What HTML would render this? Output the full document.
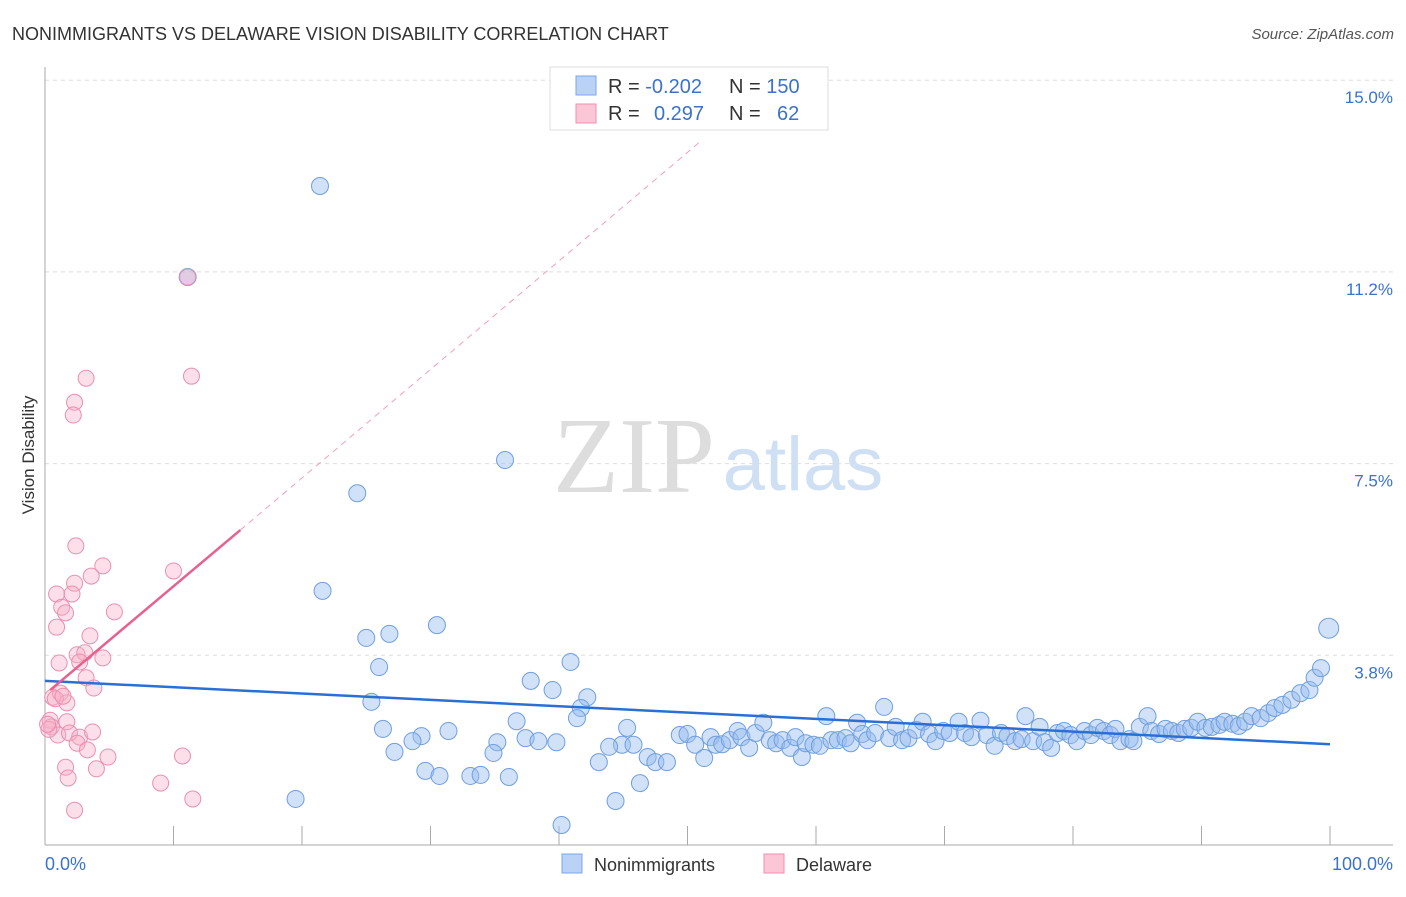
<!DOCTYPE html>
<html><head><meta charset="utf-8"><style>
body{margin:0;background:#fff;font-family:"Liberation Sans",sans-serif}
</style></head><body>
<svg id="c" width="1406" height="892" xmlns="http://www.w3.org/2000/svg">
<text x="12" y="40" font-size="18" fill="#333">NONIMMIGRANTS VS DELAWARE VISION DISABILITY CORRELATION CHART</text>
<text x="1394" y="39" font-size="15" fill="#555" font-style="italic" text-anchor="end">Source: ZipAtlas.com</text>
<g>
<text x="634" y="492" font-size="108" fill="#ddd" font-family="Liberation Serif" text-anchor="middle">ZIP</text>
<text x="803" y="490" font-size="76" fill="#cfe0f5" text-anchor="middle">atlas</text>
</g>
<g id="grid"></g>
<g id="axes"></g>
<g id="marks"></g>
<text transform="translate(34,455) rotate(-90)" font-size="17" fill="#333" text-anchor="middle">Vision Disability</text>
<g>
<rect x="550" y="67" width="278" height="63" fill="#fff" stroke="#ddd"/>
<rect x="576" y="76" width="20" height="19" fill="#b9d2f5" stroke="#7aa7e6"/>
<rect x="576" y="104" width="20" height="19" fill="#fbc7d6" stroke="#ee8fb0"/>
<text x="608" y="93" font-size="20" fill="#333">R = <tspan fill="#3a72cc">-0.202</tspan></text>
<text x="729" y="93" font-size="20" fill="#333">N = <tspan fill="#3a72cc">150</tspan></text>
<text x="608" y="120" font-size="20" fill="#333">R = <tspan fill="#3a72cc" x="654">0.297</tspan></text>
<text x="729" y="120" font-size="20" fill="#333">N = <tspan fill="#3a72cc" x="777">62</tspan></text>
</g>
<g>
<rect x="562" y="854" width="20" height="19" fill="#b9d2f5" stroke="#7aa7e6"/>
<text x="594" y="871" font-size="18" fill="#333">Nonimmigrants</text>
<rect x="764" y="854" width="20" height="19" fill="#fbc7d6" stroke="#ee8fb0"/>
<text x="796" y="871" font-size="18" fill="#333">Delaware</text>
</g>
</svg>
<script>
const blueX=[21.4,11.1,35.8,24.3,21.6,30.5,26.8,25.0,40.9,26.0,37.8,39.5,42.2,25.4,41.7,41.4,36.7,45.3,26.3,31.4,29.3,28.6,37.4,35.2,38.4,39.8,27.2,34.9,44.9,45.8,43.9,43.1,46.9,47.5,48.4,29.6,30.7,33.1,33.9,36.1,46.3,19.5,44.4,40.2,
49.4,50.0,50.6,51.3,51.8,52.2,52.7,53.3,53.9,54.2,54.8,55.3,55.9,56.4,56.9,57.4,58.0,58.4,58.9,59.2,59.8,60.3,60.8,61.2,61.7,62.3,62.7,63.2,63.6,64.0,64.6,65.3,65.7,66.2,66.7,67.2,67.8,68.3,68.8,69.3,69.9,70.4,71.1,71.6,72.1,72.8,73.3,73.9,74.4,74.9,75.5,76.0,76.3,76.9,77.4,77.8,78.3,78.8,79.3,79.8,80.3,80.9,81.4,81.9,82.4,82.9,83.3,83.7,84.4,84.7,85.2,85.8,86.1,86.7,87.2,87.7,88.2,88.7,89.2,89.7,90.3,90.8,91.4,91.8,92.4,92.9,93.4,93.9,94.6,95.2,95.7,96.3,97.0,97.7,98.4,98.8,99.3,99.9];
const blueY=[12.93,11.15,7.57,6.92,5.01,4.34,4.17,4.09,3.62,3.52,3.25,3.07,2.93,2.84,2.72,2.52,2.46,2.33,2.31,2.27,2.17,2.07,2.13,2.05,2.07,2.05,1.86,1.84,2.00,2.00,1.96,1.66,1.76,1.66,1.66,1.49,1.39,1.39,1.41,1.37,1.25,0.94,0.90,0.43,
2.19,2.21,2.00,1.74,2.15,2.00,2.01,2.09,2.27,2.15,1.94,2.23,2.43,2.09,2.03,2.09,1.94,2.15,1.76,2.03,2.00,1.98,2.56,2.09,2.09,2.13,2.03,2.43,2.21,2.09,2.23,2.74,2.13,2.35,2.09,2.13,2.29,2.45,2.21,2.07,2.27,2.23,2.45,2.23,2.15,2.47,2.19,1.98,2.23,2.17,2.07,2.11,2.56,2.07,2.35,2.05,1.94,2.23,2.27,2.19,2.07,2.27,2.19,2.33,2.27,2.19,2.31,2.07,2.11,2.07,2.35,2.56,2.27,2.21,2.31,2.27,2.23,2.31,2.33,2.45,2.33,2.35,2.39,2.45,2.41,2.37,2.45,2.56,2.52,2.62,2.72,2.78,2.88,3.01,3.07,3.31,3.50,4.28];
const pinkX=[3.2,11.4,2.3,2.2,2.4,4.5,3.6,10.0,2.3,0.9,2.1,1.3,1.6,5.4,0.9,3.5,2.5,3.1,1.1,2.7,4.5,3.2,3.8,0.6,1.2,1.7,0.4,0.5,1.0,1.7,1.9,2.7,2.5,3.3,3.7,4.9,1.6,1.8,4.0,2.3,9.0,10.7,11.5,11.1,0.3,0.8,1.4,0.2];
const pinkY=[9.17,9.21,8.70,8.45,5.89,5.50,5.30,5.40,5.16,4.95,4.95,4.69,4.58,4.60,4.30,4.13,3.76,3.80,3.60,3.62,3.70,3.31,3.11,2.93,3.01,2.82,2.48,2.35,2.19,2.45,2.23,2.15,2.03,1.90,2.25,1.76,1.56,1.35,1.53,0.72,1.25,1.78,0.94,11.15,2.30,2.90,2.95,2.40];
const yTicks=[3.75,7.5,11.25,15];
const yTickLabels=["3.8%","7.5%","11.2%","15.0%"];
const xTicks=[0,10,20,30,40,50,60,70,80,90,100];
const blueTrend=[3.25,2.01];
const pinkTrend=[0.4,3.07,15.2,6.20,51,13.8];

const NS="http://www.w3.org/2000/svg";
const sx=v=>45+v*12.85, sy=v=>847-v*51.12;
function mk(p,t,a){const e=document.createElementNS(NS,t);for(const k in a)e.setAttribute(k,a[k]);p.appendChild(e);return e;}
const grid=document.getElementById('grid'),axes=document.getElementById('axes'),marks=document.getElementById('marks');
yTicks.forEach((t,i)=>{
 const l=mk(grid,'line',{x1:45,x2:1393,y1:sy(t),y2:sy(t),stroke:'#ddd','stroke-dasharray':'4,4'});
 
 
 const tx=mk(grid,'text',{x:1393,y:sy(t)+23,'font-size':17,fill:'#3a72cc','text-anchor':'end'});
 tx.textContent=yTickLabels[i];
 
 
});
let ax=mk(axes,'line',{x1:45,x2:1393,y1:845,y2:845,stroke:'#aaa'});


let ay=mk(axes,'line',{x1:45,x2:45,y1:67,y2:845,stroke:'#aaa'});


xTicks.forEach(t=>{const l=mk(axes,'line',{x1:sx(t),x2:sx(t),y1:826,y2:845,stroke:'#aaa'});
 
 });
let xl=mk(axes,'text',{x:45,y:870,'font-size':18,fill:'#3a72cc'});xl.textContent='0.0%';


let xr=mk(axes,'text',{x:1393,y:870,'font-size':18,fill:'#3a72cc','text-anchor':'end'});xr.textContent='100.0%';


blueX.forEach((x,i)=>{const c=mk(marks,'circle',{cx:sx(x),cy:sy(blueY[i]),r:i===blueX.length-1?10:8.5,fill:'rgba(150,188,240,0.45)',stroke:'#6f9fe0','stroke-width':1});
 
 });
pinkX.forEach((x,i)=>{const c=mk(marks,'circle',{cx:sx(x),cy:sy(pinkY[i]),r:8,fill:'rgba(248,175,198,0.4)',stroke:'#ec8fb0','stroke-width':1});
 
 });
let bt=mk(marks,'line',{x1:sx(0),y1:sy(blueTrend[0]),x2:sx(100),y2:sy(blueTrend[1]),stroke:'#2a6fd6','stroke-width':2.5});


let pt=mk(marks,'line',{x1:sx(pinkTrend[0]),y1:sy(pinkTrend[1]),x2:sx(pinkTrend[2]),y2:sy(pinkTrend[3]),stroke:'#e8608c','stroke-width':2.5});


let pd=mk(marks,'line',{x1:sx(pinkTrend[2]),y1:sy(pinkTrend[3]),x2:sx(pinkTrend[4]),y2:sy(pinkTrend[5]),stroke:'#f0a0b8','stroke-width':1,'stroke-dasharray':'6,5'});


</script>
</body></html>
